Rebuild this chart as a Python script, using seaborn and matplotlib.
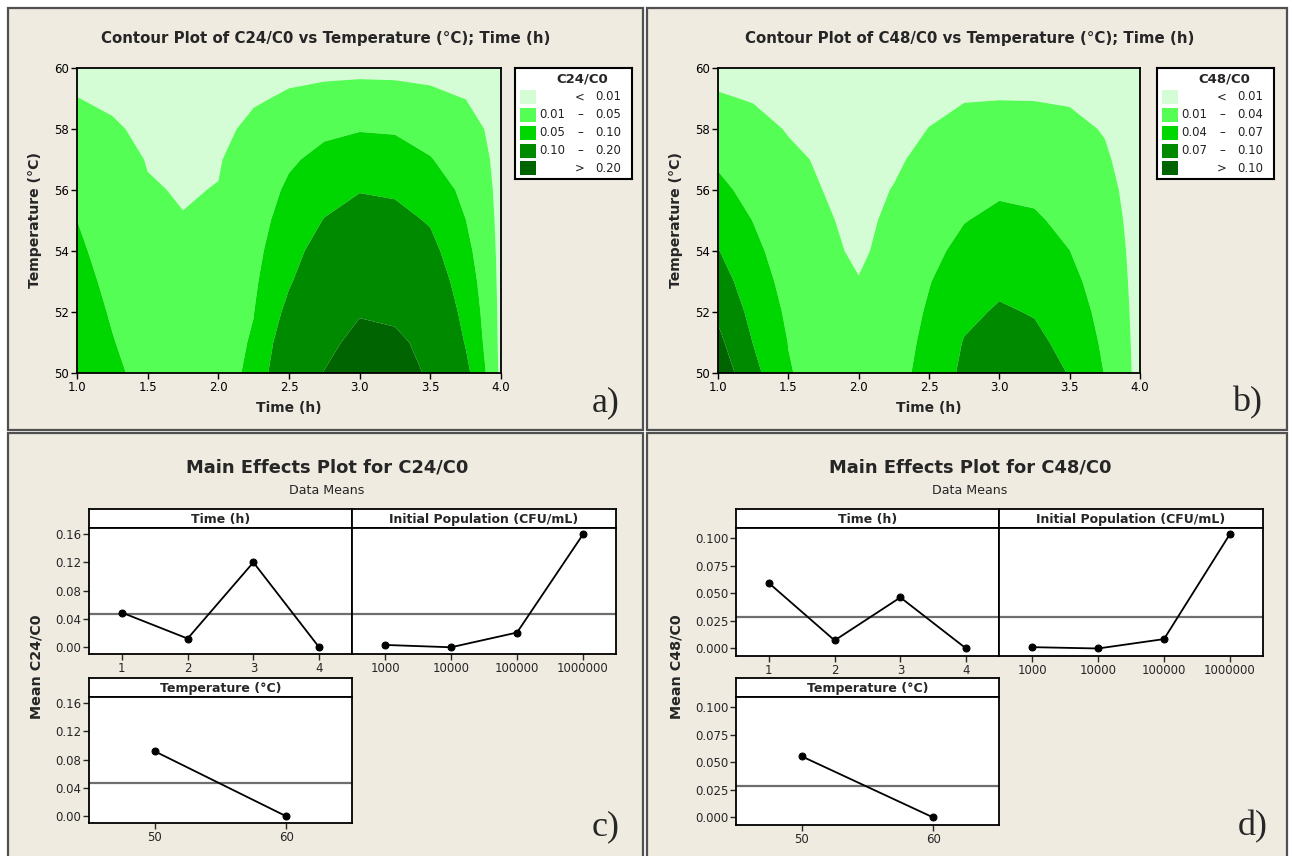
import numpy as np
import matplotlib
matplotlib.use("Agg")
import matplotlib.pyplot as plt
from matplotlib.patches import Rectangle
import seaborn as sns

sns.set_style("white")
plt.rcParams['font.family'] = ['DejaVu Sans']

# ---------------- data ----------------
time_h = [1.0, 1.25, 1.5, 1.75, 2.0, 2.25, 2.5, 2.75, 3.0, 3.25, 3.5, 3.75, 4.0]
temp_c = [50, 51, 52, 53, 54, 55, 56, 57, 58, 59, 60]

# C24/C0 surface, one list per time value (temperatures 50 ... 60)
c24_surface = [
    [0.085, 0.078, 0.071, 0.064, 0.057, 0.050, 0.040, 0.030, 0.020, 0.0102, 0.005],
    [0.060, 0.052, 0.046, 0.040, 0.034, 0.028, 0.023, 0.017, 0.0115, 0.008, 0.005],
    [0.034, 0.030, 0.027, 0.023, 0.020, 0.016, 0.0112, 0.0092, 0.0075, 0.0057, 0.004],
    [0.030, 0.026, 0.022, 0.019, 0.015, 0.0105, 0.009, 0.0075, 0.006, 0.0045, 0.003],
    [0.035, 0.032, 0.028, 0.025, 0.021, 0.016, 0.0105, 0.0088, 0.0068, 0.0049, 0.003],
    [0.058, 0.054, 0.049, 0.043, 0.037, 0.031, 0.025, 0.019, 0.013, 0.0087, 0.006],
    [0.160, 0.137, 0.114, 0.095, 0.0825, 0.070, 0.0575, 0.044, 0.029, 0.0115, 0.007],
    [0.202, 0.182, 0.162, 0.142, 0.122, 0.102, 0.082, 0.062, 0.0416, 0.015, 0.006],
    [0.250, 0.220, 0.195, 0.171, 0.146, 0.122, 0.0975, 0.0725, 0.0476, 0.017, 0.006],
    [0.235, 0.215, 0.186, 0.163, 0.140, 0.116, 0.093, 0.069, 0.0456, 0.016, 0.006],
    [0.190, 0.178, 0.153, 0.134, 0.115, 0.0955, 0.074, 0.052, 0.035, 0.013, 0.006],
    [0.115, 0.0965, 0.085, 0.0735, 0.0617, 0.0505, 0.040, 0.030, 0.020, 0.0098, 0.005],
    [0.001, 0.001, 0.001, 0.001, 0.001, 0.001, 0.001, 0.001, 0.001, 0.001, 0.001],
]

# C48/C0 surface, one list per time value (temperatures 50 ... 60)
c48_surface = [
    [0.119, 0.107, 0.0952, 0.0832, 0.0712, 0.0595, 0.0472, 0.0355, 0.0238, 0.0115, 0.005],
    [0.079, 0.0693, 0.0617, 0.054, 0.0467, 0.0394, 0.0307, 0.0229, 0.0152, 0.009, 0.005],
    [0.042, 0.0394, 0.0352, 0.0307, 0.0262, 0.022, 0.0175, 0.013, 0.009, 0.0066, 0.004],
    [0.028, 0.025, 0.022, 0.019, 0.016, 0.0127, 0.0098, 0.0081, 0.0064, 0.0047, 0.003],
    [0.025, 0.0205, 0.0163, 0.011, 0.006, 0.0045, 0.004, 0.0035, 0.003, 0.003, 0.003],
    [0.030, 0.028, 0.025, 0.022, 0.0185, 0.0146, 0.0108, 0.007, 0.0065, 0.0056, 0.004],
    [0.050, 0.0465, 0.043, 0.0388, 0.0331, 0.0274, 0.0214, 0.0157, 0.0102, 0.0075, 0.005],
    [0.076, 0.0716, 0.0634, 0.0553, 0.0472, 0.0391, 0.0316, 0.0238, 0.016, 0.009, 0.005],
    [0.0913, 0.0823, 0.0733, 0.064, 0.055, 0.046, 0.0367, 0.0274, 0.0184, 0.0095, 0.005],
    [0.085, 0.0766, 0.0682, 0.060, 0.0517, 0.0433, 0.0349, 0.0262, 0.0175, 0.0093, 0.005],
    [0.0685, 0.0613, 0.0544, 0.0472, 0.0402, 0.0334, 0.027, 0.0205, 0.0139, 0.0085, 0.005],
    [0.039, 0.0352, 0.0313, 0.0274, 0.0238, 0.0199, 0.016, 0.0121, 0.009, 0.007, 0.005],
    [0.001, 0.001, 0.001, 0.001, 0.001, 0.001, 0.001, 0.001, 0.001, 0.001, 0.001],
]

c24_levels = ["0.01", "0.05", "0.10", "0.20"]
c48_levels = ["0.01", "0.04", "0.07", "0.10"]
green_colors = ['#d5fdd5', '#55fe55', '#00d600', '#008a00', '#006400']

# main effects: data means
time_levels = [1, 2, 3, 4]
pop_labels = ["1000", "10000", "100000", "1000000"]
temp_levels = [50, 60]

c24_time = [0.049, 0.0123, 0.120, 0.000]
c24_pop = [0.0033, 0.000, 0.0208, 0.1595]
c24_temp = [0.0918, 0.000]
c24_mean = 0.0465

c48_time = [0.0592, 0.0073, 0.0462, 0.000]
c48_pop = [0.0012, 0.000, 0.0085, 0.1036]
c48_temp = [0.0553, 0.000]
c48_mean = 0.0287

c24_yticks = [0.00, 0.04, 0.08, 0.12, 0.16]
c48_yticks = [0.000, 0.025, 0.050, 0.075, 0.100]

# ---------------- layout helpers ----------------
W, H = 1293, 856
fig = plt.figure(figsize=(W / 100, H / 100), dpi=100, facecolor='white')


def rect(x0, y0, x1, y1):
    return [x0 / W, 1 - y1 / H, (x1 - x0) / W, (y1 - y0) / H]


def ftext(x, y, s, **kw):
    kw.setdefault('ha', 'center')
    kw.setdefault('va', 'center')
    return fig.text(x / W, 1 - y / H, s, **kw)


BEIGE = '#efebe1'
EDGE = '#505050'
for (x0, y0, x1, y1) in [(7.5, 8, 643, 429.5), (647.5, 8, 1287.5, 429.5),
                         (7.5, 433.5, 643, 880), (647.5, 433.5, 1287.5, 880)]:
    fig.add_artist(Rectangle((x0 / W, 1 - y1 / H), (x1 - x0) / W, (y1 - y0) / H,
                             transform=fig.transFigure, facecolor=BEIGE,
                             edgecolor=EDGE, lw=1.6, zorder=-5))


def style_spines(ax, lw=1.3):
    for s in ax.spines.values():
        s.set_visible(True)
        s.set_color('black')
        s.set_linewidth(lw)


def contour_panel(box, lbox, surface, levels, name, letter, cx):
    ax = fig.add_axes(rect(*box))
    Z = np.array(surface).T
    bounds = [-1.0] + [float(v) for v in levels] + [10.0]
    ax.contourf(time_h, temp_c, Z, levels=bounds, colors=green_colors, antialiased=True)
    ax.set_xlim(1, 4)
    ax.set_ylim(50, 60)
    xt = np.arange(1.0, 4.01, 0.5)
    ax.set_xticks(xt)
    ax.set_xticklabels([f"{v:.1f}" for v in xt])
    yt = np.arange(50, 61, 2)
    ax.set_yticks(yt)
    ax.set_yticklabels([f"{v:d}" for v in yt])
    ax.tick_params(direction='out', length=4, width=1, colors='black',
                   labelsize=8.5, pad=1.5, bottom=True, left=True)
    style_spines(ax)
    ftext(cx, 38, f"Contour Plot of {name} vs Temperature (°C); Time (h)",
          fontsize=10.8, fontweight='bold')
    ftext(box[0] - 42, (box[1] + box[3]) / 2, "Temperature (°C)", rotation=90,
          fontsize=10.1, fontweight='bold')
    ftext((box[0] + box[2]) / 2, 408, "Time (h)", fontsize=10, fontweight='bold')
    ftext(box[0] + 529, 403, letter, fontsize=26, family=['Liberation Serif', 'DejaVu Serif'])

    # legend
    lx0, ly0, lx1, ly1 = lbox
    lg = fig.add_axes(rect(*lbox))
    lg.set_xlim(lx0, lx1)
    lg.set_ylim(ly1, ly0)
    lg.set_xticks([])
    lg.set_yticks([])
    lg.set_facecolor('white')
    style_spines(lg, 1.5)
    lg.text(lx0 + 67, ly0 + 11.5, name, ha='center', va='center', fontsize=9.5, fontweight='bold')
    labels = [("", "<", levels[0])]
    for a, b in zip(levels[:-1], levels[1:]):
        labels.append((a, "–", b))
    labels.append(("", ">", levels[-1]))
    rows = [97, 115, 133, 150.5, 168]
    for (lo, sym, hi), yc, col in zip(labels, rows, green_colors):
        yc = yc - 68 + ly0
        lg.add_patch(Rectangle((lx0 + 5, yc - 7), 16, 14, facecolor=col, edgecolor='none'))
        if lo:
            lg.text(lx0 + 50, yc, lo, ha='right', va='center', fontsize=8.4, color='#222222')
        lg.text(lx0 + 65, yc, sym, ha='center', va='center', fontsize=8.4, color='#222222')
        lg.text(lx0 + 106, yc, hi, ha='right', va='center', fontsize=8.4, color='#222222')
    return ax


contour_panel((77, 68, 501, 373), (515, 68, 632, 179), c24_surface, c24_levels, "C24/C0", "a)", 326)
contour_panel((718, 68, 1140, 373), (1157, 68, 1274, 179), c48_surface, c48_levels, "C48/C0", "b)", 970)


# ---------------- main effects ----------------
def facet(xb, yb, title, x, y, mean, ylim, yticks, yfmt, show_y, xlim, xticks, xticklabels):
    x0, x1 = xb
    s0, p0, p1 = yb
    sax = fig.add_axes(rect(x0, s0, x1, p0))
    sax.set_xticks([])
    sax.set_yticks([])
    sax.set_facecolor('white')
    style_spines(sax)
    sax.text(0.5, 0.45, title, transform=sax.transAxes, ha='center', va='center',
             fontsize=9.0, fontweight='bold')
    ax = fig.add_axes(rect(x0, p0, x1, p1))
    ax.set_facecolor('white')
    ax.axhline(mean, color='#6e6e6e', lw=1.6, zorder=1)
    sns.lineplot(x=x, y=y, ax=ax, color='black', lw=1.3, marker='o', markersize=5,
                 markeredgecolor='black', markerfacecolor='black', zorder=3)
    ax.set_xlim(*xlim)
    ax.set_ylim(*ylim)
    ax.set_xticks(xticks)
    ax.set_xticklabels(xticklabels)
    ax.set_yticks(yticks)
    if show_y:
        ax.set_yticklabels([yfmt.format(v) for v in yticks])
        ax.tick_params(axis='y', direction='out', length=4, width=1, left=True, labelsize=8.5, pad=1.5)
    else:
        ax.tick_params(axis='y', left=False, labelleft=False)
    ax.tick_params(axis='x', direction='out', length=4, width=1, bottom=True, labelsize=8.5, pad=2)
    ax.set_xlabel("")
    ax.set_ylabel("")
    style_spines(ax)
    return ax


def main_effects(xoff, name, t_vals, p_vals, te_vals, mean, ylim, yticks, yfmt, letter, cx, ylab_x, bottoms):
    b1, b2 = bottoms
    left = (xoff, xoff + 263)
    right = (xoff + 263, xoff + 527)
    pos = np.arange(len(pop_labels))
    facet(left, (509, 528, b1), "Time (h)", time_levels, t_vals, mean, ylim, yticks, yfmt, True,
          (0.5, 4.5), time_levels, [str(v) for v in time_levels])
    facet(right, (509, 528, b1), "Initial Population (CFU/mL)", pos, p_vals, mean, ylim, yticks, yfmt,
          False, (-0.5, 3.5), pos, pop_labels)
    facet(left, (678, 697, b2), "Temperature (°C)", temp_levels, te_vals, mean, ylim, yticks, yfmt, True,
          (45, 65), temp_levels, [str(v) for v in temp_levels])
    ftext(cx, 468, f"Main Effects Plot for {name}", fontsize=12.9, fontweight='bold')
    ftext(cx, 490, "Data Means", fontsize=9.1)
    ftext(ylab_x, 667, f"Mean {name}", rotation=90, fontsize=10.3, fontweight='bold')
    ftext(xoff + 517, 827, letter, fontsize=26, family=['Liberation Serif', 'DejaVu Serif'])


main_effects(89, "C24/C0", c24_time, c24_pop, c24_temp, c24_mean, (-0.0095, 0.1685),
             c24_yticks, "{:.2f}", "c)", 327, 37, (654, 823))
main_effects(736, "C48/C0", c48_time, c48_pop, c48_temp, c48_mean, (-0.0068, 0.109),
             c48_yticks, "{:.3f}", "d)", 970, 676, (656, 825))

fig.savefig("out.png", dpi=100, facecolor='white')
